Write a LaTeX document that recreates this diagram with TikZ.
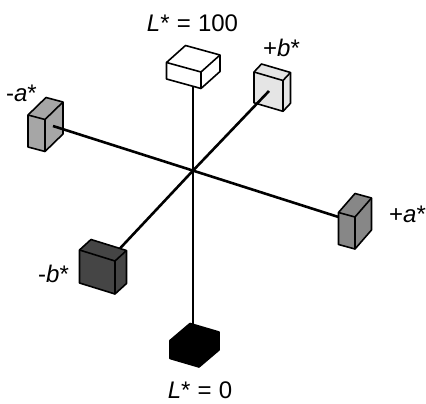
\documentclass[tikz,border=0pt]{standalone}
\usepackage{fontspec}
\setmainfont{Liberation Sans}
\usetikzlibrary{calc}

\definecolor{cubewhite}{gray}{1.0}
\definecolor{cubelight}{gray}{0.90}
\definecolor{cubemid}{gray}{0.65}
\definecolor{cubegray}{gray}{0.53}
\definecolor{cubedark}{gray}{0.27}
\definecolor{cubeblack}{gray}{0.0}

\tikzset{
  cubeedge/.style={draw=black, line width=1.6pt, line join=round},
  axisline/.style={draw=black, line width=2.6pt},
  axislabel/.style={font=\fontsize{24}{28}\selectfont, anchor=base, inner sep=0pt},
}

% spacing around the equals sign
\newcommand\eqsp{\hspace{0.3em}=\hspace{0.3em}}

% \labcube{fill}{front-top corner}{left edge}{right edge}{height}{name}
% draws a small box seen from above: top face, left face and right face
\newcommand\labcube[6]{%
  \coordinate (#6-f) at #2;
  \coordinate (#6-l) at ($(#6-f)+#3$);
  \coordinate (#6-r) at ($(#6-f)+#4$);
  \coordinate (#6-b) at ($(#6-l)+#4$);
  \coordinate (#6-fd) at ($(#6-f)+(0,#5)$);
  \coordinate (#6-ld) at ($(#6-l)+(0,#5)$);
  \coordinate (#6-rd) at ($(#6-r)+(0,#5)$);
  \filldraw[cubeedge, fill=#1] (#6-l) -- (#6-b) -- (#6-r) -- (#6-rd) -- (#6-fd) -- (#6-ld) -- cycle;
  \draw[cubeedge] (#6-l) -- (#6-f) -- (#6-r) (#6-f) -- (#6-fd);
}

\begin{document}
\begin{tikzpicture}[x=1pt, y=-1pt]
  \useasboundingbox (0,0) rectangle (426,404);

  % colour samples at the ends of the three axes
  \labcube{cubewhite}{(201,72)}{(-34.5,-9.5)}{(19,-17)}{16.5}{Lhi}
  \labcube{cubeblack}{(199,349)}{(-29,-8.5)}{(20,-17)}{18}{Llo}
  \labcube{cubelight}{(283,80.5)}{(-29,-8.5)}{(7.5,-8)}{30.8}{bpos}
  \labcube{cubedark}{(115,261)}{(-35.5,-11)}{(11.5,-10.5)}{33}{bneg}
  \labcube{cubemid}{(45,119.5)}{(-17,-4.5)}{(18,-17.5)}{32}{aneg}
  \labcube{cubegray}{(355,217)}{(-16.5,-4.5)}{(16.5,-19)}{32}{apos}

  % axis end points
  \coordinate (O) at (193,170.6);
  \coordinate (Ltop) at (193,86.3);
  \coordinate (Lbot) at (193,324.5);
  \coordinate (aleft) at (53,126);
  \coordinate (aright) at (338.5,217);
  \coordinate (bup) at (269,91);
  \coordinate (bdown) at (120,248.4);

  % the three axes through the centre
  \draw[axisline] (Ltop) -- (O) -- (Lbot);
  \draw[axisline] (aleft) -- (O) -- (aright);
  \draw[axisline] (bup) -- (O) -- (bdown);

  % labels
  \node[axislabel] (tLhi) at (192.5,31.7) {\textit{L}*\eqsp 100};
  \node[axislabel] (tbpos) at (281.5,57) {+\textit{b}*};
  \node[axislabel] (taneg) at (21.5,102) {-\textit{a}*};
  \node[axislabel] (tapos) at (407.5,222) {+\textit{a}*};
  \node[axislabel] (tbneg) at (53.5,282) {-\textit{b}*};
  \node[axislabel] (tLlo) at (200,398.3) {\textit{L}*\eqsp 0};
\end{tikzpicture}
\end{document}
